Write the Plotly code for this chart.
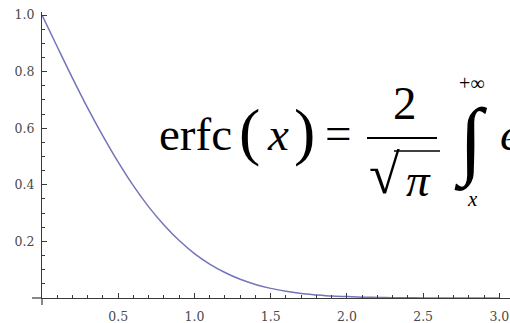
import plotly.graph_objects as go

# Complementary error function sampled every 0.1 on [0, 3]
x_vals = [0.0, 0.1, 0.2, 0.3, 0.4, 0.5, 0.6, 0.7, 0.8, 0.9, 1.0,
          1.1, 1.2, 1.3, 1.4, 1.5, 1.6, 1.7, 1.8, 1.9, 2.0,
          2.1, 2.2, 2.3, 2.4, 2.5, 2.6, 2.7, 2.8, 2.9, 3.0]
erfc_vals = [1.000, 0.888, 0.777, 0.671, 0.572, 0.480, 0.396, 0.322, 0.258, 0.203, 0.157,
             0.120, 0.090, 0.066, 0.048, 0.034, 0.024, 0.016, 0.011, 0.007, 0.005,
             0.003, 0.002, 0.001, 0.001, 0.000, 0.000, 0.000, 0.000, 0.000, 0.000]

x_ticks = [0.5, 1.0, 1.5, 2.0, 2.5, 3.0]
x_tick_text = ["0.5", "1.0", "1.5", "2.0", "2.5", "3.0"]
y_ticks = [0.2, 0.4, 0.6, 0.8, 1.0]
y_tick_text = ["0.2", "0.4", "0.6", "0.8", "1.0"]

W, H = 510, 323
ML, MR, MT, MB = 42, 0, 12, 25
PW, PH = W - ML - MR, H - MT - MB


def px(x):
    return (x - ML) / PW


def py(y):
    return (H - MB - y) / PH


AXIS = "#3a3a3a"
LABEL = "#4a4a4a"
SERIF = "Liberation Serif"

fig = go.Figure()
fig.add_trace(go.Scatter(
    x=x_vals, y=erfc_vals, mode="lines",
    line=dict(color="#7474bb", width=1.5, shape="spline"),
    hoverinfo="skip", cliponaxis=False,
))

axis_common = dict(
    showgrid=False, zeroline=False, showline=True, linecolor=AXIS, linewidth=1.2,
    ticks="inside", ticklen=5, tickwidth=1, tickcolor=AXIS,
    tickfont=dict(family="DejaVu Serif", size=12.5, color=LABEL),
)
fig.update_xaxes(range=[0, 3.07], tickvals=x_ticks, ticktext=x_tick_text,
                 minor=dict(dtick=0.1, tick0=0, ticks="inside", ticklen=3,
                            tickcolor=AXIS, tickwidth=1),
                 ticklabelstandoff=7, **axis_common)
fig.update_yaxes(range=[0, 1.0106], tickvals=y_ticks, ticktext=y_tick_text,
                 minor=dict(dtick=0.05, tick0=0, ticks="inside", ticklen=3,
                            tickcolor=AXIS, tickwidth=1),
                 ticklabelstandoff=4, **axis_common)

# axes cross slightly past the origin
fig.add_shape(type="line", xref="paper", yref="paper", x0=px(32), x1=0, y0=0, y1=0,
              line=dict(color=AXIS, width=1.2), layer="above")
fig.add_shape(type="line", xref="paper", yref="paper", x0=0, x1=0, y0=py(305), y1=0,
              line=dict(color=AXIS, width=1.2), layer="above")

# formula: erfc(x) = 2/sqrt(pi) * integral from x to +inf of e...
def txt(s, x, y, size, italic=False, xanchor="center"):
    fig.add_annotation(
        text=f"<i>{s}</i>" if italic else s, xref="paper", yref="paper",
        x=px(x), y=py(y), xanchor=xanchor, yanchor="middle", showarrow=False,
        font=dict(family=SERIF, size=size, color="#000000"))


txt("erfc", 195, 134, 47)
txt("(", 249, 131, 64)
txt("x", 278, 134, 47, italic=True)
txt(")", 304, 131, 64)
txt("=", 338, 133, 47)
txt("2", 405, 103, 47)
fig.add_shape(type="line", xref="paper", yref="paper", x0=px(367), x1=px(437),
              y0=py(138), y1=py(138), line=dict(color="#000000", width=2))
txt("\u221a", 384, 174, 56)
fig.add_shape(type="line", xref="paper", yref="paper", x0=px(394), x1=px(440),
              y0=py(151), y1=py(151), line=dict(color="#000000", width=1.6))
txt("\u03c0", 418, 180, 47, italic=True)
txt("\u222b", 471, 141, 86)
txt("+\u221e", 472, 83, 20)
txt("x", 472, 199, 21, italic=True)
txt("e", 498, 134, 47, italic=True, xanchor="left")

fig.update_layout(
    width=W, height=H, margin=dict(l=ML, r=MR, t=MT, b=MB),
    paper_bgcolor="white", plot_bgcolor="white", showlegend=False,
)
fig.write_html("out.html")
